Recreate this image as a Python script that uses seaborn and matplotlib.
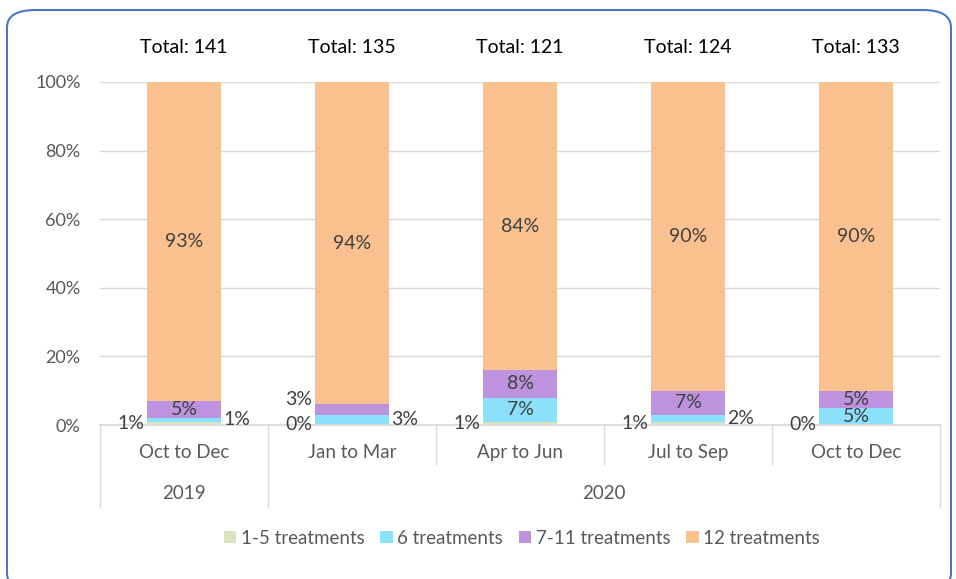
import numpy as np
import pandas as pd
import seaborn as sns
import matplotlib.pyplot as plt
from matplotlib.patches import Patch, FancyBboxPatch
from matplotlib.transforms import blended_transform_factory

# --- DATA ---
periods = ["Oct to Dec", "Jan to Mar", "Apr to Jun", "Jul to Sep", "Oct to Dec"]
years = ["2019", "2020"]
year_span = [1, 4]          # number of periods in each year
totals = [141, 135, 121, 124, 133]
series = ["1-5 treatments", "6 treatments", "7-11 treatments", "12 treatments"]
t1_5 = [1, 0, 1, 1, 0]
t6 = [1, 3, 7, 2, 5]
t7_11 = [5, 3, 8, 7, 5]
t12 = [93, 94, 84, 90, 90]
colors = ["#d7e4bd", "#8be0fb", "#bd92de", "#f9c190"]

sns.set_theme(style="white")
plt.rcParams["font.family"] = ["Lato", "DejaVu Sans"]

vals = np.array([t1_5, t6, t7_11, t12], dtype=float) / 100.0
cum = np.cumsum(vals, axis=0)
pos = list(range(len(periods)))

fig = plt.figure(figsize=(9.56, 5.79), dpi=100)
ax = fig.add_axes([100 / 956, 1 - 425 / 579, 840 / 956, 343 / 579])

# ── stacked bars: draw cumulative heights from top series down ──
for i in reversed(range(len(series))):
    df = pd.DataFrame({"x": pos, "y": cum[i]})
    sns.barplot(data=df, x="x", y="y", color=colors[i], width=0.44,
                saturation=1, ax=ax, errorbar=None, linewidth=0)

ax.set_xlim(-0.5, len(periods) - 0.5)
ax.set_ylim(0, 1)
ax.set_yticks(np.arange(0, 1.01, 0.2))
ax.set_yticklabels([f"{int(round(t * 100))}%" for t in np.arange(0, 1.01, 0.2)],
                   color="#595959", fontsize=13)
ax.tick_params(axis="y", length=0, pad=14)
ax.yaxis.grid(True, color="#d9d9d9", linewidth=1)
ax.set_axisbelow(True)
ax.set_xticks([])
ax.set_xlabel("")
ax.set_ylabel("")
for s in ["top", "right", "left"]:
    ax.spines[s].set_visible(False)
ax.spines["bottom"].set_color("#d9d9d9")

# ── data labels ──
lab_kw = dict(color="#404040", fontsize=14)
for j in pos:
    for i in range(len(series)):
        v = vals[i, j]
        mid = cum[i, j] - v / 2
        txt = f"{int(round(v * 100))}%"
        if i == 0:
            ax.text(j - 0.235, mid, txt, ha="right", va="center", **lab_kw)
        elif v >= 0.04:
            ax.text(j, mid, txt, ha="center", va="center", **lab_kw)
        elif i == 1:
            ax.text(j + 0.235, mid, txt, ha="left", va="center", **lab_kw)
        else:
            ax.text(j - 0.235, mid + 0.03, txt, ha="right", va="center", **lab_kw)
    ax.text(j, 1.1, f"Total: {totals[j]}", ha="center", va="center",
            color="black", fontsize=14)

# ── two-level category axis ──
tr = blended_transform_factory(ax.transData, ax.transAxes)
lc = "#d9d9d9"
for j, name in enumerate(periods):
    ax.text(j, -0.08, name, transform=tr, ha="center", va="center",
            color="#595959", fontsize=13.5)
bounds = np.cumsum([0] + year_span) - 0.5
for k in range(len(periods) + 1):
    x = k - 0.5
    low = -0.24 if x in bounds else -0.118
    ax.plot([x, x], [0, low], transform=tr, color=lc, lw=1, clip_on=False)
for y, a, b in zip(years, bounds[:-1], bounds[1:]):
    ax.text((a + b) / 2, -0.2, y, transform=tr, ha="center", va="center",
            color="#595959", fontsize=13.5)

# ── legend ──
handles = [Patch(facecolor=c, edgecolor="none", label=s) for c, s in zip(colors, series)]
leg = fig.legend(handles=handles, loc="center", bbox_to_anchor=(522 / 956, 1 - 538 / 579),
                 ncol=4, frameon=False, fontsize=13.5, handlelength=0.65, handleheight=0.65,
                 handletextpad=0.25, columnspacing=0.85)
for t in leg.get_texts():
    t.set_color("#595959")

# ── rounded border ──
border = FancyBboxPatch((7 / 956, -0.02), 944 / 956, 1 - 10 / 579 + 0.02,
                        boxstyle="round,pad=0,rounding_size=0.03",
                        transform=fig.transFigure, fill=False,
                        edgecolor="#4a76c2", linewidth=1.5, clip_on=False)
fig.patches.append(border)

fig.savefig("out.png", dpi=100)
